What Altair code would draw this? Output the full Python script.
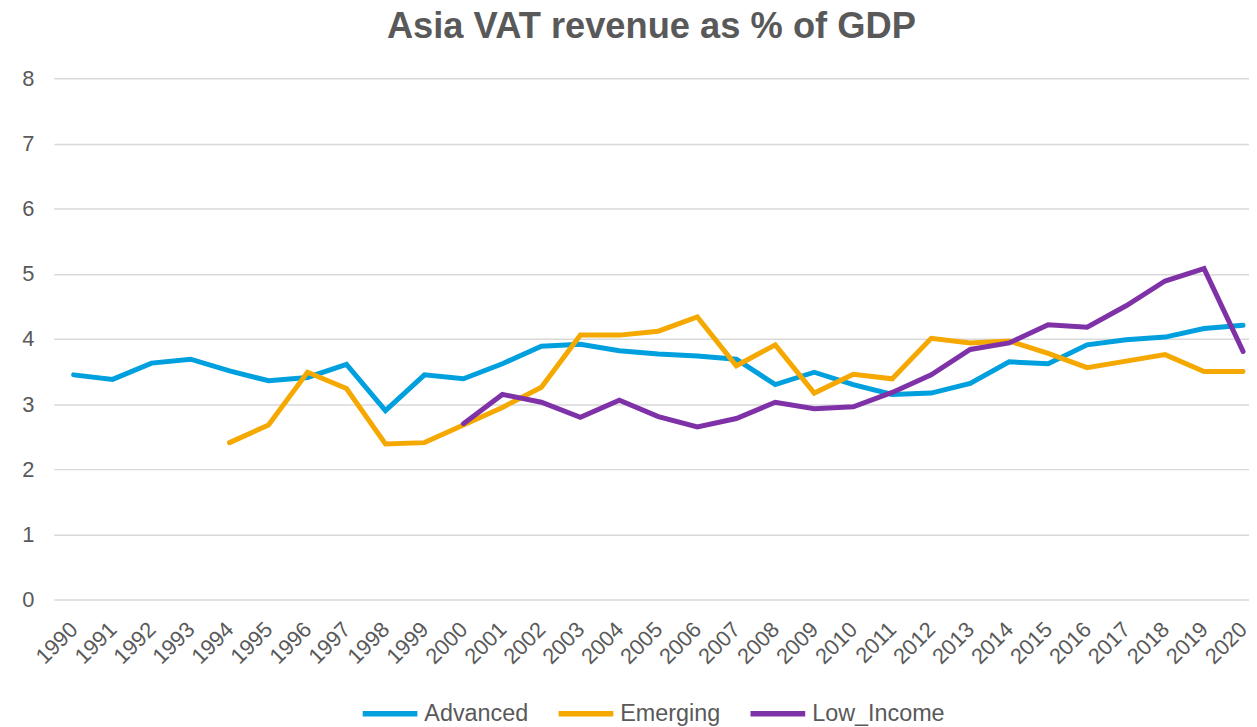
import altair as alt
import pandas as pd

years = list(range(1990, 2021))
series_names = ["Advanced", "Emerging", "Low_Income"]
series_colors = ["#00A0DF", "#F5A800", "#7F32A8"]

advanced = [3.45, 3.38, 3.63, 3.69, 3.51, 3.36, 3.41, 3.61, 2.90, 3.45,
            3.39, 3.62, 3.89, 3.92, 3.82, 3.77, 3.74, 3.69, 3.30, 3.49,
            3.30, 3.15, 3.17, 3.32, 3.65, 3.62, 3.91, 3.99, 4.03, 4.16, 4.21]
emerging = [None, None, None, None,
            2.41, 2.68, 3.49, 3.24, 2.39, 2.41,
            2.68, 2.95, 3.26, 4.06, 4.06, 4.12, 4.34, 3.59, 3.91, 3.17,
            3.46, 3.39, 4.01, 3.94, 3.97, 3.78, 3.56, 3.66, 3.76, 3.50, 3.50]
low_income = [None] * 10 + [
            2.70, 3.15, 3.03, 2.80, 3.06, 2.81, 2.65, 2.78, 3.03, 2.93,
            2.96, 3.18, 3.45, 3.84, 3.94, 4.22, 4.18, 4.51, 4.89, 5.08, 3.81]
y_ticks = [0, 1, 2, 3, 4, 5, 6, 7, 8]

rows = []
for name, vals in zip(series_names, [advanced, emerging, low_income]):
    for yr, v in zip(years, vals):
        if v is not None:
            rows.append({"year": yr, "value": v, "series": name, "k": series_names.index(name)})
df = pd.DataFrame(rows)

FONT = "Liberation Sans"
TXT = "#595959"

chart = alt.Chart(df).mark_line(strokeWidth=5, strokeCap="round").encode(
    x=alt.X("year:Q",
            scale=alt.Scale(domain=[1989.49, 2020.153], nice=False, zero=False),
            axis=alt.Axis(values=years, format="d", labelAngle=-45, labelAlign="right",
                          labelBaseline="middle", labelPadding=26, ticks=False, domain=False,
                          grid=False, title=None, labelFontSize=22, labelColor=TXT,
                          labelFont=FONT, labelOverlap=False, labelFlush=False, labelBound=False)),
    y=alt.Y("value:Q",
            scale=alt.Scale(domain=[0, 8], nice=False),
            axis=alt.Axis(values=y_ticks, title=None, domain=False, ticks=False,
                          gridColor="#D9D9D9", gridWidth=1.5, labelPadding=20,
                          labelFontSize=22, labelColor=TXT, labelFont=FONT)),
    color=alt.Color("series:N",
                    scale=alt.Scale(domain=series_names, range=series_colors),
                    legend=alt.Legend(title=None, orient="none", legendX=307.7, legendY=608.5,
                                      direction="horizontal", symbolType="stroke",
                                      symbolSize=3025, symbolStrokeWidth=5.5,
                                      labelFontSize=23.5, labelFont=FONT, labelColor=TXT,
                                      labelOffset=4, columnPadding=19, padding=0,
                                      labelLimit=400)),
    order=alt.Order("k:Q"),
).properties(
    width=1202,
    height=524.3,
    autosize="none",
    padding={"left": 46, "top": 68.7, "right": 0, "bottom": 126},
    title=alt.Title("Asia VAT revenue as % of GDP", fontSize=36.5, font=FONT,
                    fontWeight="bold", color=TXT, frame="group", anchor="middle",
                    offset=22, dx=0),
).configure_view(stroke=None)

chart.save("out.html", embed_options={"renderer": "svg", "actions": False})
